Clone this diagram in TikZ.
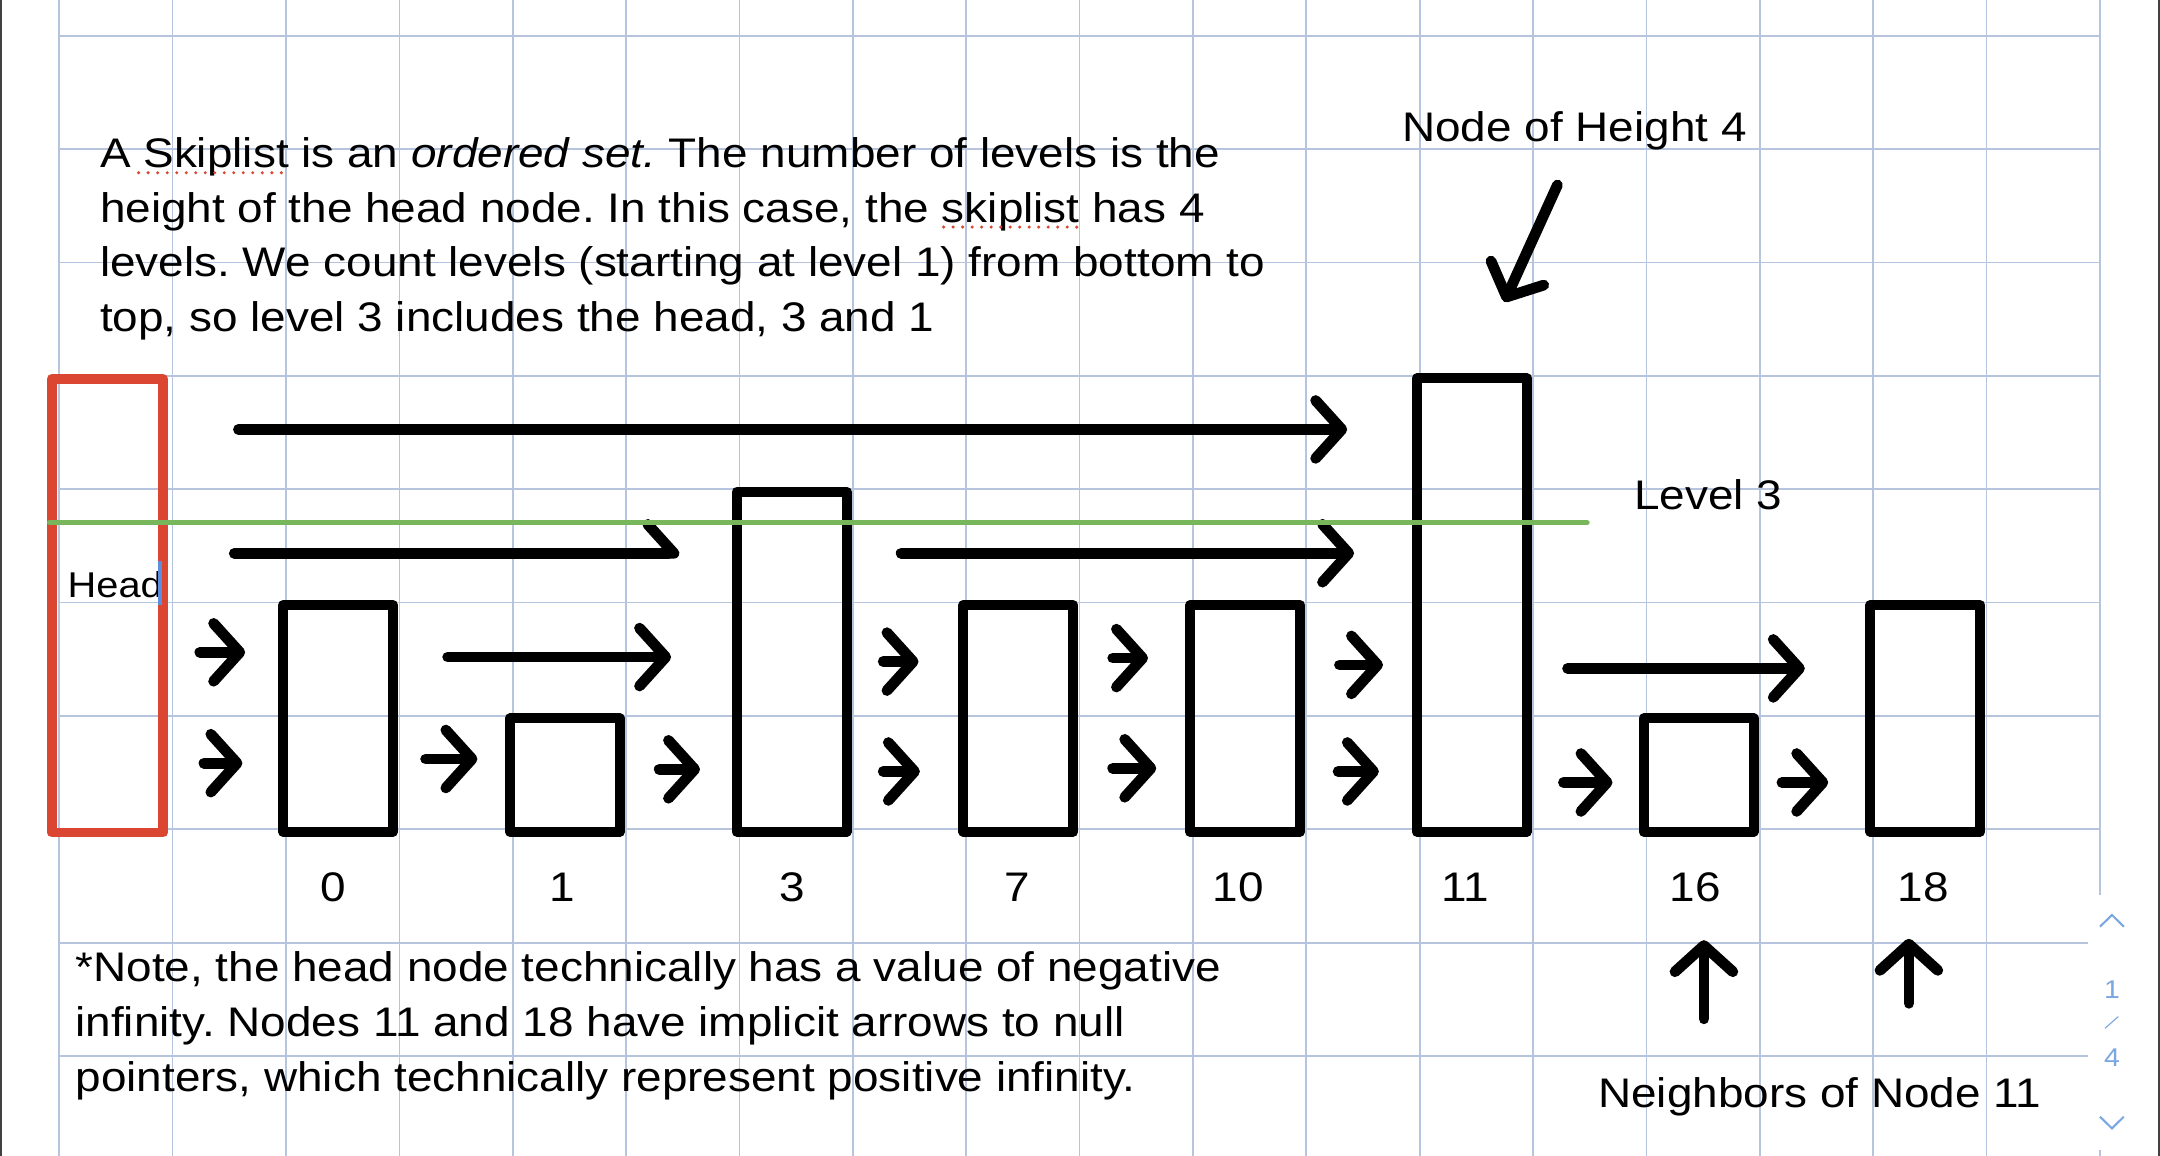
\documentclass[tikz,border=0pt]{standalone}
\usepackage{fontspec}
\setmainfont{Liberation Sans}[FakeStretch=1.11]
\usetikzlibrary{arrows.meta}
\frenchspacing

\definecolor{gridblue}{RGB}{182,196,221}
\definecolor{headred}{RGB}{218,70,50}
\definecolor{levelgreen}{RGB}{119,182,90}
\definecolor{uiblue}{RGB}{122,166,226}
\definecolor{cursorblue}{RGB}{92,142,219}

\tikzset{
  cellbox/.style={draw, line width=0.72mm, line join=round, inner sep=0pt,
    minimum width=7.98mm, minimum height=#1*8.23mm},
  ptr/.style={line width=0.78mm, line cap=round,
    -{Straight Barb[length=1.9mm,width=4.2mm,round]}},
  halfptr/.style={line width=0.78mm, line cap=round,
    -{Straight Barb[length=1.9mm,width=4.2mm,round,harpoon]}},
  note/.style={font=\fontsize{8.54pt}{11.3pt}\selectfont, inner sep=0pt,
    align=left, anchor=base west},
  numlabel/.style={font=\fontsize{8.54pt}{11.3pt}\selectfont, inner sep=0pt,
    anchor=base},
  spell/.style={headred, line width=0.25mm, line cap=round,
    dash pattern=on 0pt off 0.69mm},
}

\begin{document}
\begin{tikzpicture}[x=8.23mm, y=8.23mm]
\fill[white] (-0.5225,-2.8797) rectangle (18.53,7.3147);
\useasboundingbox (-0.5225,-2.8797) rectangle (18.53,7.3147);
\draw[gridblue, line width=0.35pt, step=1] (0,-2.8797) grid (18,7.3147);
\draw[black!75, line width=0.15mm] (-0.515,-2.8797) -- (-0.515,7.3147);
\draw[black!75, line width=0.15mm] (18.523,-2.8797) -- (18.523,7.3147);

% head and list nodes
\node[cellbox=4, draw=headred, minimum width=8.1mm] (head) at (0.425,1.972) {};
\node[cellbox=2] (b0) at (2.46,0.978) {};
\node[cellbox=1] (b1) at (4.46,0.478) {};
\node[cellbox=3] (b3) at (6.46,1.478) {};
\node[cellbox=2] (b7) at (8.46,0.978) {};
\node[cellbox=2] (b10) at (10.46,0.978) {};
\node[cellbox=4] (b11) at (12.46,1.978) {};
\node[cellbox=1] (b16) at (14.46,0.478) {};
\node[cellbox=2] (b18) at (16.46,0.978) {};

\node[numlabel] (v0) at (2.42,-0.638) {0};
\node[numlabel] (v1) at (4.44,-0.638) {1};
\node[numlabel] (v3) at (6.47,-0.638) {3};
\node[numlabel] (v7) at (8.45,-0.638) {7};
\node[numlabel] (v10) at (10.40,-0.638) {10};
\node[numlabel] (v11) at (12.40,-0.638) {11};
\node[numlabel] (v16) at (14.43,-0.638) {16};
\node[numlabel] (v18) at (16.44,-0.638) {18};

% level 4
\draw[ptr, shorten <=5.1mm, shorten >=4.7mm] (head.east |- 0,3.527) -- (b11.west |- 0,3.527);
% level 3
\draw[halfptr, shorten <=4.8mm, shorten >=3.8mm] (head.east |- 0,2.434) -- (b3.west |- 0,2.434);
\draw[ptr, shorten <=3.6mm, shorten >=4.2mm] (b3.east |- 0,2.435) -- (b11.west |- 0,2.435);
% level 2
\draw[ptr, shorten <=2.3mm, shorten >=2.4mm] (head.east |- 0,1.561) -- (b0.west |- 0,1.561);
\draw[ptr, shorten <=3.6mm, shorten >=4.4mm] (b0.east |- 0,1.519) -- (b3.west |- 0,1.519);
\draw[ptr, shorten <=2.3mm, shorten >=2.9mm] (b3.east |- 0,1.479) -- (b7.west |- 0,1.479);
\draw[ptr, shorten <=2.5mm, shorten >=2.7mm] (b7.east |- 0,1.510) -- (b10.west |- 0,1.510);
\draw[ptr, shorten <=2.5mm, shorten >=2.1mm] (b10.east |- 0,1.450) -- (b11.west |- 0,1.450);
\draw[ptr, shorten <=2.6mm, shorten >=4.4mm] (b11.east |- 0,1.419) -- (b18.west |- 0,1.419);
% level 1
\draw[ptr, shorten <=2.6mm, shorten >=2.6mm] (head.east |- 0,0.583) -- (b0.west |- 0,0.583);
\draw[ptr, shorten <=2.0mm, shorten >=2.0mm] (b0.east |- 0,0.620) -- (b1.west |- 0,0.620);
\draw[ptr, shorten <=2.5mm, shorten >=2.3mm] (b1.east |- 0,0.529) -- (b3.west |- 0,0.529);
\draw[ptr, shorten <=2.3mm, shorten >=2.8mm] (b3.east |- 0,0.510) -- (b7.west |- 0,0.510);
\draw[ptr, shorten <=2.5mm, shorten >=2.1mm] (b7.east |- 0,0.538) -- (b10.west |- 0,0.538);
\draw[ptr, shorten <=2.4mm, shorten >=2.4mm] (b10.east |- 0,0.510) -- (b11.west |- 0,0.510);
\draw[ptr, shorten <=2.3mm, shorten >=1.9mm] (b11.east |- 0,0.413) -- (b16.west |- 0,0.413);
\draw[ptr, shorten <=1.7mm, shorten >=2.7mm] (b16.east |- 0,0.413) -- (b18.west |- 0,0.413);

% level 3 marker
\draw[levelgreen, line width=0.39mm, line cap=round] (-0.085,2.705) -- (13.475,2.705);

% texts
\node[note] (intro) at (0.352,4.389) {A Skiplist is an \textit{ordered set.} The number of levels is the\\
height of the head node. In this case, the skiplist has 4\\
levels. We count levels (starting at level 1) from bottom to\\
top, so level 3 includes the head, 3 and 1};
\draw[spell] (0.701,5.791) -- (2.033,5.791);
\draw[spell] (7.801,5.312) -- (9.040,5.312);

\node[note] (nh) at (11.838,6.070) {Node of Height 4};
\coordinate (hgt) at (13.215,5.683);
\draw[ptr, shorten >=5.7mm] (hgt) -- (b11.north);

\node[note] (lvl) at (13.883,2.817) {Level 3};
\node[note, font=\fontsize{7.4pt}{9pt}\selectfont] (headtxt) at (0.066,2.046) {Head};
\draw[cursorblue, line width=0.3mm] (0.887,1.981) -- (0.887,2.369);

\node[note] (fn) at (0.135,-2.312) {*Note, the head node technically has a value of negative\\
infinity. Nodes 11 and 18 have implicit arrows to null\\
pointers, which technically represent positive infinity.};

\node[note] (nb) at (13.566,-2.454) {Neighbors of Node 11};
\coordinate (up16) at (14.507,-1.672);
\coordinate (up18) at (16.315,-1.535);
\draw[ptr, shorten >=2.7mm] (up16) -- (v16.south -| up16);
\draw[ptr, shorten >=2.6mm] (up18) -- (v18.south -| up18);

% page counter
\fill[white] (17.892,-0.583) rectangle (18.515,-2.831);
\draw[uiblue, line width=0.15mm] (18.0,-0.859) -- (18.106,-0.756) -- (18.211,-0.859);
\draw[uiblue, line width=0.15mm] (18.0,-2.535) -- (18.106,-2.638) -- (18.211,-2.535);
\node[numlabel, uiblue, font=\fontsize{5.3pt}{6pt}\selectfont] (pgnow) at (18.106,-1.491) {1};
\draw[uiblue, line width=0.08mm] (18.044,-1.756) -- (18.162,-1.652);
\node[numlabel, uiblue, font=\fontsize{5.3pt}{6pt}\selectfont] (pgall) at (18.106,-2.094) {4};
\end{tikzpicture}
\end{document}
